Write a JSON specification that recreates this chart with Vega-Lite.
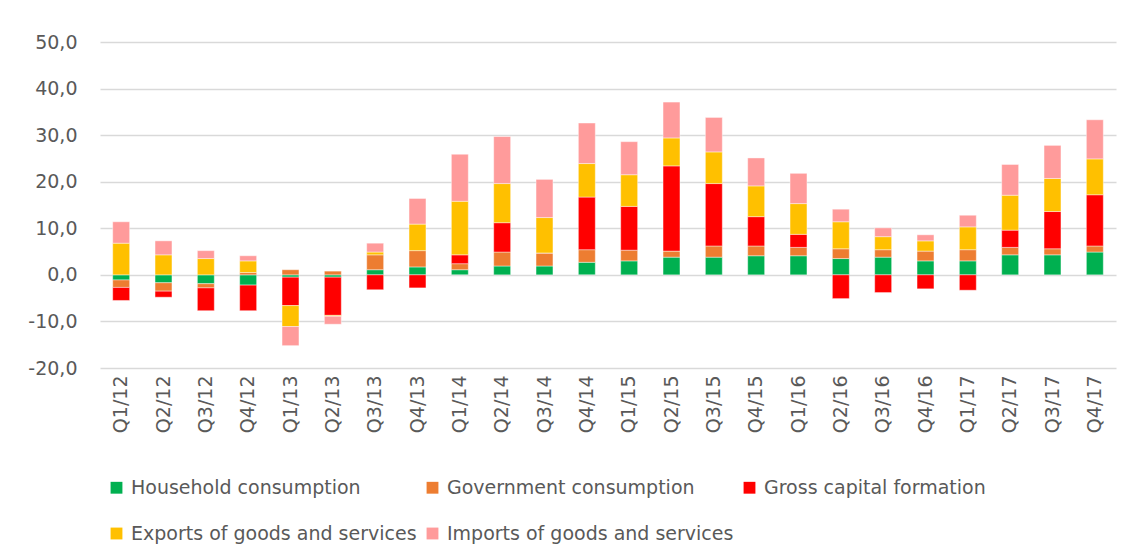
{
  "$schema": "https://vega.github.io/schema/vega-lite/v6.json",
  "autosize": {"type": "none"},
  "width": 1016,
  "height": 326,
  "padding": {"left": 100, "top": 42, "right": 28, "bottom": 192},
  "background": "white",
  "config": {
    "view": {"stroke": null},
    "font": "DejaVu Sans"
  },
  "datasets": {
    "comp": [
      {"c": "Household consumption", "k": 1},
      {"c": "Government consumption", "k": 2},
      {"c": "Gross capital formation", "k": 3},
      {"c": "Exports of goods and services", "k": 4},
      {"c": "Imports of goods and services", "k": 5}
    ]
  },
  "data": {
    "values": [
      {"q":"Q1/12","c":"Household consumption","v":-1.1},{"q":"Q1/12","c":"Government consumption","v":-1.6},{"q":"Q1/12","c":"Gross capital formation","v":-2.8},{"q":"Q1/12","c":"Exports of goods and services","v":6.8},{"q":"Q1/12","c":"Imports of goods and services","v":4.6},
      {"q":"Q2/12","c":"Household consumption","v":-1.7},{"q":"Q2/12","c":"Government consumption","v":-1.8},{"q":"Q2/12","c":"Gross capital formation","v":-1.3},{"q":"Q2/12","c":"Exports of goods and services","v":4.3},{"q":"Q2/12","c":"Imports of goods and services","v":3.0},
      {"q":"Q3/12","c":"Household consumption","v":-1.9},{"q":"Q3/12","c":"Government consumption","v":-0.9},{"q":"Q3/12","c":"Gross capital formation","v":-4.9},{"q":"Q3/12","c":"Exports of goods and services","v":3.5},{"q":"Q3/12","c":"Imports of goods and services","v":1.7},
      {"q":"Q4/12","c":"Household consumption","v":-2.2},{"q":"Q4/12","c":"Government consumption","v":0.5},{"q":"Q4/12","c":"Gross capital formation","v":-5.5},{"q":"Q4/12","c":"Exports of goods and services","v":2.5},{"q":"Q4/12","c":"Imports of goods and services","v":1.1},
      {"q":"Q1/13","c":"Household consumption","v":-0.5},{"q":"Q1/13","c":"Government consumption","v":1.1},{"q":"Q1/13","c":"Gross capital formation","v":-6.1},{"q":"Q1/13","c":"Exports of goods and services","v":-4.5},{"q":"Q1/13","c":"Imports of goods and services","v":-4.1},
      {"q":"Q2/13","c":"Household consumption","v":-0.5},{"q":"Q2/13","c":"Government consumption","v":0.8},{"q":"Q2/13","c":"Gross capital formation","v":-8.2},{"q":"Q2/13","c":"Exports of goods and services","v":-0.2},{"q":"Q2/13","c":"Imports of goods and services","v":-1.7},
      {"q":"Q3/13","c":"Household consumption","v":1.1},{"q":"Q3/13","c":"Government consumption","v":3.2},{"q":"Q3/13","c":"Gross capital formation","v":-3.2},{"q":"Q3/13","c":"Exports of goods and services","v":0.6},{"q":"Q3/13","c":"Imports of goods and services","v":1.9},
      {"q":"Q4/13","c":"Household consumption","v":1.7},{"q":"Q4/13","c":"Government consumption","v":3.5},{"q":"Q4/13","c":"Gross capital formation","v":-2.8},{"q":"Q4/13","c":"Exports of goods and services","v":5.7},{"q":"Q4/13","c":"Imports of goods and services","v":5.5},
      {"q":"Q1/14","c":"Household consumption","v":1.1},{"q":"Q1/14","c":"Government consumption","v":1.3},{"q":"Q1/14","c":"Gross capital formation","v":1.9},{"q":"Q1/14","c":"Exports of goods and services","v":11.5},{"q":"Q1/14","c":"Imports of goods and services","v":10.1},
      {"q":"Q2/14","c":"Household consumption","v":1.9},{"q":"Q2/14","c":"Government consumption","v":3.0},{"q":"Q2/14","c":"Gross capital formation","v":6.3},{"q":"Q2/14","c":"Exports of goods and services","v":8.4},{"q":"Q2/14","c":"Imports of goods and services","v":10.1},
      {"q":"Q3/14","c":"Household consumption","v":1.9},{"q":"Q3/14","c":"Government consumption","v":2.8},{"q":"Q3/14","c":"Gross capital formation","v":0.0},{"q":"Q3/14","c":"Exports of goods and services","v":7.6},{"q":"Q3/14","c":"Imports of goods and services","v":8.2},
      {"q":"Q4/14","c":"Household consumption","v":2.7},{"q":"Q4/14","c":"Government consumption","v":2.7},{"q":"Q4/14","c":"Gross capital formation","v":11.3},{"q":"Q4/14","c":"Exports of goods and services","v":7.2},{"q":"Q4/14","c":"Imports of goods and services","v":8.7},
      {"q":"Q1/15","c":"Household consumption","v":3.0},{"q":"Q1/15","c":"Government consumption","v":2.3},{"q":"Q1/15","c":"Gross capital formation","v":9.4},{"q":"Q1/15","c":"Exports of goods and services","v":6.8},{"q":"Q1/15","c":"Imports of goods and services","v":7.1},
      {"q":"Q2/15","c":"Household consumption","v":3.8},{"q":"Q2/15","c":"Government consumption","v":1.3},{"q":"Q2/15","c":"Gross capital formation","v":18.3},{"q":"Q2/15","c":"Exports of goods and services","v":6.0},{"q":"Q2/15","c":"Imports of goods and services","v":7.7},
      {"q":"Q3/15","c":"Household consumption","v":3.8},{"q":"Q3/15","c":"Government consumption","v":2.4},{"q":"Q3/15","c":"Gross capital formation","v":13.4},{"q":"Q3/15","c":"Exports of goods and services","v":6.8},{"q":"Q3/15","c":"Imports of goods and services","v":7.4},
      {"q":"Q4/15","c":"Household consumption","v":4.1},{"q":"Q4/15","c":"Government consumption","v":2.1},{"q":"Q4/15","c":"Gross capital formation","v":6.3},{"q":"Q4/15","c":"Exports of goods and services","v":6.6},{"q":"Q4/15","c":"Imports of goods and services","v":6.0},
      {"q":"Q1/16","c":"Household consumption","v":4.1},{"q":"Q1/16","c":"Government consumption","v":1.8},{"q":"Q1/16","c":"Gross capital formation","v":2.8},{"q":"Q1/16","c":"Exports of goods and services","v":6.6},{"q":"Q1/16","c":"Imports of goods and services","v":6.5},
      {"q":"Q2/16","c":"Household consumption","v":3.5},{"q":"Q2/16","c":"Government consumption","v":2.1},{"q":"Q2/16","c":"Gross capital formation","v":-5.1},{"q":"Q2/16","c":"Exports of goods and services","v":5.8},{"q":"Q2/16","c":"Imports of goods and services","v":2.7},
      {"q":"Q3/16","c":"Household consumption","v":3.8},{"q":"Q3/16","c":"Government consumption","v":1.6},{"q":"Q3/16","c":"Gross capital formation","v":-3.8},{"q":"Q3/16","c":"Exports of goods and services","v":2.8},{"q":"Q3/16","c":"Imports of goods and services","v":1.9},
      {"q":"Q4/16","c":"Household consumption","v":3.0},{"q":"Q4/16","c":"Government consumption","v":2.1},{"q":"Q4/16","c":"Gross capital formation","v":-3.0},{"q":"Q4/16","c":"Exports of goods and services","v":2.2},{"q":"Q4/16","c":"Imports of goods and services","v":1.3},
      {"q":"Q1/17","c":"Household consumption","v":3.0},{"q":"Q1/17","c":"Government consumption","v":2.4},{"q":"Q1/17","c":"Gross capital formation","v":-3.3},{"q":"Q1/17","c":"Exports of goods and services","v":4.9},{"q":"Q1/17","c":"Imports of goods and services","v":2.5},
      {"q":"Q2/17","c":"Household consumption","v":4.3},{"q":"Q2/17","c":"Government consumption","v":1.6},{"q":"Q2/17","c":"Gross capital formation","v":3.7},{"q":"Q2/17","c":"Exports of goods and services","v":7.5},{"q":"Q2/17","c":"Imports of goods and services","v":6.6},
      {"q":"Q3/17","c":"Household consumption","v":4.3},{"q":"Q3/17","c":"Government consumption","v":1.3},{"q":"Q3/17","c":"Gross capital formation","v":8.0},{"q":"Q3/17","c":"Exports of goods and services","v":7.1},{"q":"Q3/17","c":"Imports of goods and services","v":7.1},
      {"q":"Q4/17","c":"Household consumption","v":4.9},{"q":"Q4/17","c":"Government consumption","v":1.3},{"q":"Q4/17","c":"Gross capital formation","v":11.0},{"q":"Q4/17","c":"Exports of goods and services","v":7.7},{"q":"Q4/17","c":"Imports of goods and services","v":8.4}
    ]
  },
  "transform": [
    {"lookup": "c", "from": {"data": {"name": "comp"}, "key": "c", "fields": ["k"]}}
  ],
  "mark": {"type": "bar", "stroke": "#ffffff", "strokeWidth": 0.6, "strokeOpacity": 0.7},
  "encoding": {
    "x": {
      "field": "q",
      "type": "nominal",
      "sort": null,
      "title": null,
      "scale": {"paddingInner": 0.6, "paddingOuter": 0.3},
      "axis": {
        "labelAngle": -90,
        "labelFontSize": 19,
        "labelColor": "#595959",
        "labelPadding": 7,
        "domain": false,
        "ticks": false,
        "grid": false
      }
    },
    "y": {
      "field": "v",
      "type": "quantitative",
      "stack": "zero",
      "title": null,
      "scale": {"domain": [-20, 50], "nice": false, "zero": false},
      "axis": {
        "values": [-20, -10, 0, 10, 20, 30, 40, 50],
        "labelExpr": "replace(replace(format(datum.value, '.1f'), '.', ','), '\u2212', '-')",
        "labelFontSize": 19,
        "labelColor": "#595959",
        "labelPadding": 23,
        "domain": false,
        "ticks": false,
        "grid": true,
        "gridColor": "#d9d9d9",
        "gridWidth": 1.5
      }
    },
    "order": {"field": "k", "type": "quantitative", "sort": "ascending"},
    "color": {
      "field": "c",
      "type": "nominal",
      "scale": {
        "domain": ["Household consumption", "Government consumption", "Gross capital formation", "Exports of goods and services", "Imports of goods and services"],
        "range": ["#00B050", "#ED7D31", "#FF0000", "#FFC000", "#FF9B9B"]
      },
      "legend": {
        "title": null,
        "orient": "bottom",
        "direction": "horizontal",
        "columns": 3,
        "symbolType": "square",
        "symbolSize": 140,
        "symbolStrokeWidth": 0,
        "labelFontSize": 19,
        "labelColor": "#595959",
        "labelLimit": 400,
        "labelOffset": 5,
        "columnPadding": 6,
        "rowPadding": 26,
        "padding": 7,
        "offset": 38
      }
    }
  }
}
